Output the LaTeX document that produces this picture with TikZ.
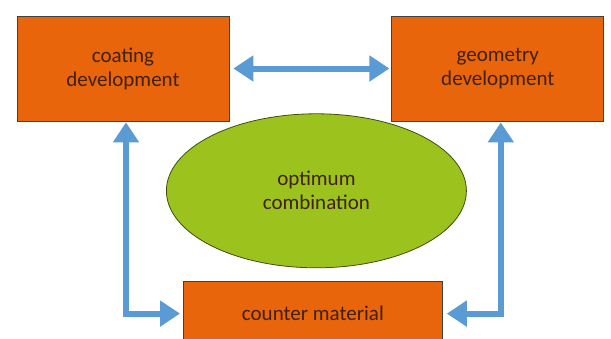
\documentclass[tikz,border=0pt]{standalone}
\usepackage{fontspec}
\setmainfont{Carlito}
\definecolor{box-orange}{HTML}{E8650C}
\definecolor{oval-green}{HTML}{9CC31D}
\definecolor{arrow-blue}{HTML}{5B9BD5}
\definecolor{label-brown}{HTML}{40200F}
\usetikzlibrary{shapes.geometric,arrows.meta,positioning,calc}

\begin{document}
\begin{tikzpicture}[
  box/.style={rectangle, draw=black!75, fill=box-orange, line width=0.8pt,
              minimum width=212pt, minimum height=105pt, align=center,
              text=label-brown, font=\fontsize{21}{24}\selectfont},
  oval/.style={ellipse, draw=black!60!oval-green, fill=oval-green, line width=0.8pt,
               minimum width=300pt, minimum height=154pt, inner sep=0pt, align=center,
               text=label-brown, font=\fontsize{21}{24}\selectfont},
  arr/.style={{Triangle[length=20pt,width=25pt]}-{Triangle[length=20pt,width=25pt]},
              line width=6pt, arrow-blue}]

  \useasboundingbox (0,0) rectangle (611pt,-338pt);

  \node[box] (coating) at (123pt,-68.5pt) {coating\\development};
  \node[box, right=162pt of coating] (geometry) {geometry\\development};
  \coordinate (mid) at ($(coating.south)!0.5!(geometry.south)$);
  \node[oval, below=-8pt of mid, xshift=6pt] (optimum) {optimum\\combination};
  \node[box, minimum width=259pt, minimum height=64pt,
        below=13pt of optimum, xshift=-3.5pt] (counter) {counter material};

  \draw[arr, shorten <=4pt, shorten >=2pt] (coating) -- (geometry);
  \draw[arr, shorten <=1pt, shorten >=3pt] ([xshift=3pt]coating.south)
      -- ([xshift=3pt]coating.south |- counter.west) -- (counter.west);
  \draw[arr, shorten <=1pt, shorten >=4pt] ([xshift=3pt]geometry.south)
      -- ([xshift=3pt]geometry.south |- counter.east) -- (counter.east);

\end{tikzpicture}
\end{document}
